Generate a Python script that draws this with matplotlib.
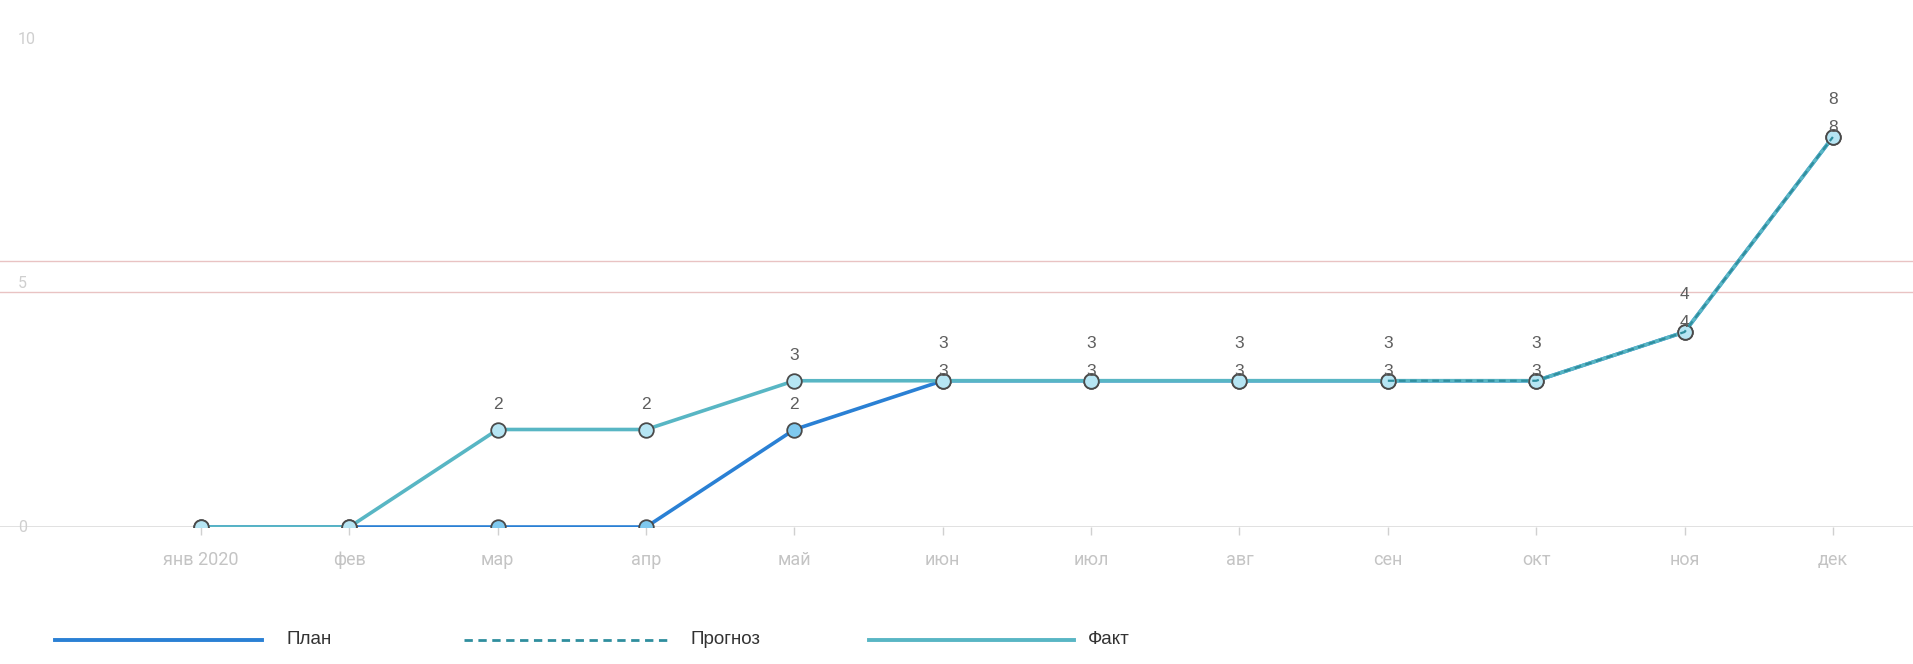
import numpy as np
import matplotlib
matplotlib.use("Agg")
import matplotlib.pyplot as plt
from matplotlib.lines import Line2D

# data
months = ["янв 2020", "фев", "мар", "апр", "май", "июн", "июл", "авг", "сен", "окт", "ноя", "дек"]
plan = [0, 0, 0, 0, 2, 3, 3, 3, 3, 3, 4, 8]
fact = [0, 0, 2, 2, 3, 3, 3, 3, 3, 3, 4, 8]
forecast = [np.nan] * 8 + [3, 3, 4, 8]
yticks = [0, 5, 10]
ref_lines = [4.82, 5.46]

W, H, DPI = 1913, 664, 100
fig = plt.figure(figsize=(W / DPI, H / DPI), dpi=DPI)

# plot area: bottom edge is y=0 so markers at zero get clipped in half
bottom_px = 137
unit_px = 48.75
ax = fig.add_axes([0, bottom_px / H, 1, 1 - bottom_px / H])
ax.set_xlim(-1.355, 11.54)
ax.set_ylim(0, (H - bottom_px) / unit_px)
for s in ax.spines.values():
    s.set_visible(False)
ax.set_yticks([])

x = np.arange(len(months))

c_plan = "#2a80d4"
c_fact = "#58b6c4"
c_fc = "#2f8e9e"
lab_font = ["Liberation Sans", "DejaVu Sans"]

for y in ref_lines:
    ax.axhline(y, color="#e9c3c3", lw=1.0, zorder=1)

ax.axhline(0, color="#dcdcdc", lw=1.2, zorder=1)

ax.plot(x, plan, color=c_plan, lw=2.6, marker="o", ms=10.5,
        mfc="#7fc9ef", mec="#4a4a4a", mew=1.3, zorder=3)
ax.plot(x, fact, color=c_fact, lw=2.6, marker="o", ms=10.5,
        mfc="#b6e5f3", mec="#4a4a4a", mew=1.3, zorder=4)
ax.plot(x, forecast, color=c_fc, lw=1.6, ls=(0, (3, 2)), zorder=5)

# data labels
def put_label(i, v, off):
    ax.annotate(str(v), (i, v), xytext=(0, off), textcoords="offset points",
                ha="center", va="center", fontsize=12.5, color="#5e5e5e",
                family=lab_font, zorder=6)

for i in range(len(months)):
    p, f = plan[i], fact[i]
    if p > 0 and p == f:
        put_label(i, p, 7)
        put_label(i, f, 27)
    else:
        if p > 0:
            put_label(i, p, 18)
        if f > 0:
            put_label(i, f, 18)

# x axis ticks and labels
ax.set_xticks(x)
ax.set_xticklabels(months, family=["Roboto", "DejaVu Sans"])
ax.tick_params(axis="x", length=6, width=1, color="#d0d0d0", labelcolor="#c4c4c4",
               labelsize=13, pad=11)

# y tick labels drawn at the left edge
for t in yticks:
    ax.text(18 / W, t, str(t), transform=ax.get_yaxis_transform(), ha="left",
            va="center", fontsize=11.5, color="#cfcfcf", clip_on=False,
            family=["Roboto", "DejaVu Sans"])

# legend along the bottom
ly = 1 - 640 / H
legend_items = [("План", c_plan, "-", 2.8, 55, 262, 287),
                ("Прогноз", c_fc, (0, (3, 2)), 2.0, 464, 671, 690),
                ("Факт", c_fact, "-", 2.8, 869, 1074, 1088)]
for name, col, ls, lw, x0, x1, tx in legend_items:
    fig.add_artist(Line2D([x0 / W, x1 / W], [ly, ly], color=col, lw=lw, ls=ls,
                          transform=fig.transFigure))
    fig.text(tx / W, ly, name, ha="left", va="center", fontsize=13.5,
             color="#333333", family=lab_font)

fig.savefig("out.png", dpi=DPI, facecolor="white")
